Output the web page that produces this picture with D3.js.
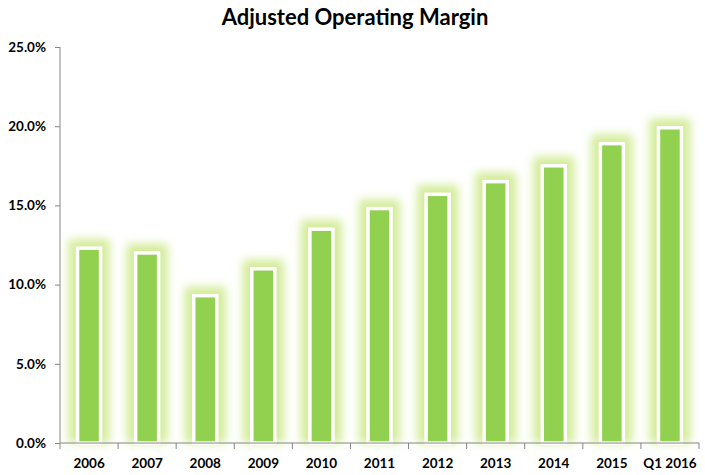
<!DOCTYPE html>
<html>
<head>
<meta charset="utf-8">
<script src="https://cdn.jsdelivr.net/npm/d3@7"></script>
<style>
  body { margin: 0; background: #fff; }
  text { font-family: Lato, "Open Sans", sans-serif; font-weight: bold; fill: #000; }
</style>
</head>
<body>
<div id="chart"></div>
<script>
const categories = ["2006", "2007", "2008", "2009", "2010", "2011", "2012", "2013", "2014", "2015", "Q1 2016"];
const margins = [12.3, 12.0, 9.3, 11.0, 13.5, 14.8, 15.7, 16.5, 17.5, 18.9, 19.9];
const yTicks = [0, 5, 10, 15, 20, 25];

const WIDTH = 705, HEIGHT = 475;
const MARGIN = { top: 47, right: 6, bottom: 32, left: 60 };

const svg = d3.select("#chart").append("svg")
    .attr("width", WIDTH)
    .attr("height", HEIGHT);

// glow filter for the bars
const defs = svg.append("defs");
defs.append("filter")
    .attr("id", "glow")
    .attr("x", "-80%").attr("y", "-50%")
    .attr("width", "260%").attr("height", "200%")
  .append("feGaussianBlur")
    .attr("stdDeviation", 5);

const x = d3.scaleBand()
    .domain(categories)
    .range([MARGIN.left, WIDTH - MARGIN.right]);

const y = d3.scaleLinear()
    .domain([0, 25])
    .range([HEIGHT - MARGIN.bottom, MARGIN.top]);

// title
svg.append("text")
    .attr("x", 355)
    .attr("y", 25)
    .attr("text-anchor", "middle")
    .style("font-size", "22px")
    .text("Adjusted Operating Margin");

const barW = 23;
const glowPad = 9;

const bars = svg.append("g");

// glow behind each bar
bars.selectAll("rect.glow")
  .data(categories)
  .join("rect")
    .attr("class", "glow")
    .attr("x", d => x(d) + x.bandwidth() / 2 - barW / 2 - glowPad)
    .attr("y", (d, i) => y(margins[i]) - glowPad)
    .attr("width", barW + glowPad * 2)
    .attr("height", (d, i) => y(0) - y(margins[i]) + glowPad)
    .attr("fill", "#d3ec98")
    .attr("filter", "url(#glow)");

bars.selectAll("rect.bar")
  .data(categories)
  .join("rect")
    .attr("class", "bar")
    .attr("x", d => x(d) + x.bandwidth() / 2 - barW / 2)
    .attr("y", (d, i) => y(margins[i]))
    .attr("width", barW)
    .attr("height", (d, i) => y(0) - y(margins[i]))
    .attr("fill", "#92d050")
    .attr("stroke", "#fff")
    .attr("stroke-width", 3.5);

// y axis
const yAxis = d3.axisLeft(y)
    .tickValues(yTicks)
    .tickSize(5)
    .tickPadding(9)
    .tickFormat(d => d.toFixed(1) + "%");

const gy = svg.append("g")
    .attr("transform", `translate(${MARGIN.left},0)`)
    .call(yAxis);
gy.selectAll("path, line").attr("stroke", "#868686");
gy.selectAll("text").style("font-size", "13.5px");
gy.select(".domain").attr("d", `M0,${y(0)}V${y(25)}`);

// x axis
const xAxis = d3.axisBottom(x)
    .tickSize(0)
    .tickPadding(15);

const gx = svg.append("g")
    .attr("transform", `translate(0,${y(0)})`)
    .call(xAxis);
gx.select(".domain").attr("stroke", "#868686").attr("d", `M${MARGIN.left},0H${WIDTH - MARGIN.right}`);
gx.selectAll("text").style("font-size", "13.5px");

// category boundary ticks
gx.selectAll("line.bound")
  .data(categories.concat([null]))
  .join("line")
    .attr("class", "bound")
    .attr("x1", (d, i) => x.range()[0] + i * x.step())
    .attr("x2", (d, i) => x.range()[0] + i * x.step())
    .attr("y1", 0)
    .attr("y2", 6)
    .attr("stroke", "#868686");
</script>
</body>
</html>
